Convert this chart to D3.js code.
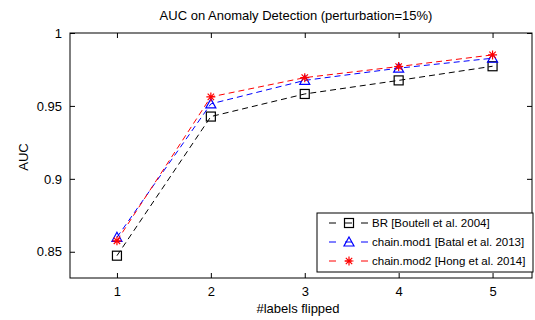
<!DOCTYPE html>
<html><head><meta charset="utf-8">
<script src="https://cdn.jsdelivr.net/npm/d3@7"></script>
<style>body{margin:0;background:#fff}svg{display:block}text{font-family:"Liberation Sans",Arial,sans-serif;fill:#000}</style>
</head><body>
<script>
const categories = [1, 2, 3, 4, 5];
const xTicks = [1, 2, 3, 4, 5];
const yTicks = [0.85, 0.9, 0.95, 1];
const yTickLabels = ["0.85", "0.9", "0.95", "1"];
const seriesNames = ["BR [Boutell et al. 2004]", "chain.mod1 [Batal et al. 2013]", "chain.mod2 [Hong et al. 2014]"];
const brValues = [0.8473, 0.9427, 0.9582, 0.9675, 0.9772];
const mod1Values = [0.8599, 0.9514, 0.9675, 0.9759, 0.9827];
const mod2Values = [0.8575, 0.9562, 0.9694, 0.9770, 0.9850];
const seriesColors = ["#000000", "#0000ff", "#ff0000"];
const seriesMarkers = ["square", "triangle", "star"];
const titleText = "AUC on Anomaly Detection (perturbation=15%)";
const xLabel = "#labels flipped";
const yLabel = "AUC";

const W = 535, H = 320;
const L = 70, R = 532, T = 33, B = 278;
const svg = d3.select("body").append("svg").attr("width", W).attr("height", H);

const x = d3.scaleLinear().domain([0.5, 5.42]).range([L, R]);
const y = d3.scaleLinear().domain([0.832, 1.0]).range([B, T]);

// axes box
const g = svg.append("g");
const tickLen = 5;
const axB = d3.axisBottom(x).tickValues(xTicks).tickFormat(d3.format("d")).tickSizeInner(-tickLen).tickSizeOuter(0).tickPadding(9);
const axT = d3.axisTop(x).tickValues(xTicks).tickFormat("").tickSizeInner(-tickLen).tickSizeOuter(0);
const axL = d3.axisLeft(y).tickValues(yTicks).tickFormat((d, i) => yTickLabels[i]).tickSizeInner(-tickLen).tickSizeOuter(0).tickPadding(8);
const axR = d3.axisRight(y).tickValues(yTicks).tickFormat("").tickSizeInner(-tickLen).tickSizeOuter(0);
g.append("g").attr("transform", `translate(0,${B})`).call(axB);
g.append("g").attr("transform", `translate(0,${T})`).call(axT);
g.append("g").attr("transform", `translate(${L},0)`).call(axL);
g.append("g").attr("transform", `translate(${R},0)`).call(axR);
g.selectAll(".domain").remove();
g.selectAll(".tick line").attr("stroke", "#000");
g.selectAll(".tick text").attr("font-size", 13).attr("font-family", '"Liberation Sans",Arial,sans-serif');
svg.append("rect").attr("x", L).attr("y", T).attr("width", R - L).attr("height", B - T)
  .attr("fill", "none").attr("stroke", "#000").attr("stroke-width", 1);

// lines
const allSeries = [brValues, mod1Values, mod2Values];
const line = d3.line().x((d, i) => x(categories[i])).y(d => y(d));

function drawMarker(sel, type, color, cx, cy) {
  if (type === "square") {
    sel.append("rect").attr("x", cx - 4.5).attr("y", cy - 4.5).attr("width", 9).attr("height", 9)
      .attr("fill", "none").attr("stroke", color).attr("stroke-width", 1.2);
  } else if (type === "triangle") {
    sel.append("path").attr("d", `M${cx},${cy - 5}L${cx + 5},${cy + 4}L${cx - 5},${cy + 4}Z`)
      .attr("fill", "none").attr("stroke", color).attr("stroke-width", 1.2);
  } else {
    const r = 4.5, d = 3.2;
    sel.append("path").attr("d", `M${cx - r},${cy}L${cx + r},${cy}M${cx},${cy - r}L${cx},${cy + r}M${cx - d},${cy - d}L${cx + d},${cy + d}M${cx - d},${cy + d}L${cx + d},${cy - d}`)
      .attr("stroke", color).attr("stroke-width", 1.2).attr("fill", "none");
  }
}

allSeries.forEach((vals, si) => {
  svg.append("path").datum(vals).attr("d", line).attr("fill", "none")
    .attr("stroke", seriesColors[si]).attr("stroke-width", 1).attr("stroke-dasharray", "6,4");
  const mg = svg.append("g");
  vals.forEach((v, i) => drawMarker(mg, seriesMarkers[si], seriesColors[si], x(categories[i]), y(v)));
});

// legend
const lg = svg.append("g");
const lx = 317, ly = 213, lw = 216, lh = 59;
lg.append("rect").attr("x", lx).attr("y", ly).attr("width", lw).attr("height", lh)
  .attr("fill", "#fff").attr("stroke", "#000").attr("stroke-width", 1);
seriesNames.forEach((name, i) => {
  const ry = ly + 10 + i * 19;
  lg.append("line").attr("x1", lx + 12).attr("x2", lx + 51).attr("y1", ry).attr("y2", ry)
    .attr("stroke", seriesColors[i]).attr("stroke-width", 1).attr("stroke-dasharray", "7,9");
  drawMarker(lg, seriesMarkers[i], seriesColors[i], lx + 32, ry);
  lg.append("text").attr("x", lx + 55).attr("y", ry + 4).attr("font-size", 11.5).text(name);
});

// title & labels
svg.append("text").attr("x", 296).attr("y", 20).attr("text-anchor", "middle").attr("font-size", 13).text(titleText);
svg.append("text").attr("x", (L + R) / 2 - 3).attr("y", 313).attr("text-anchor", "middle").attr("font-size", 13).text(xLabel);
svg.append("text").attr("transform", `translate(28,157) rotate(-90)`).attr("text-anchor", "middle").attr("font-size", 13).text(yLabel);
</script>
</body></html>
